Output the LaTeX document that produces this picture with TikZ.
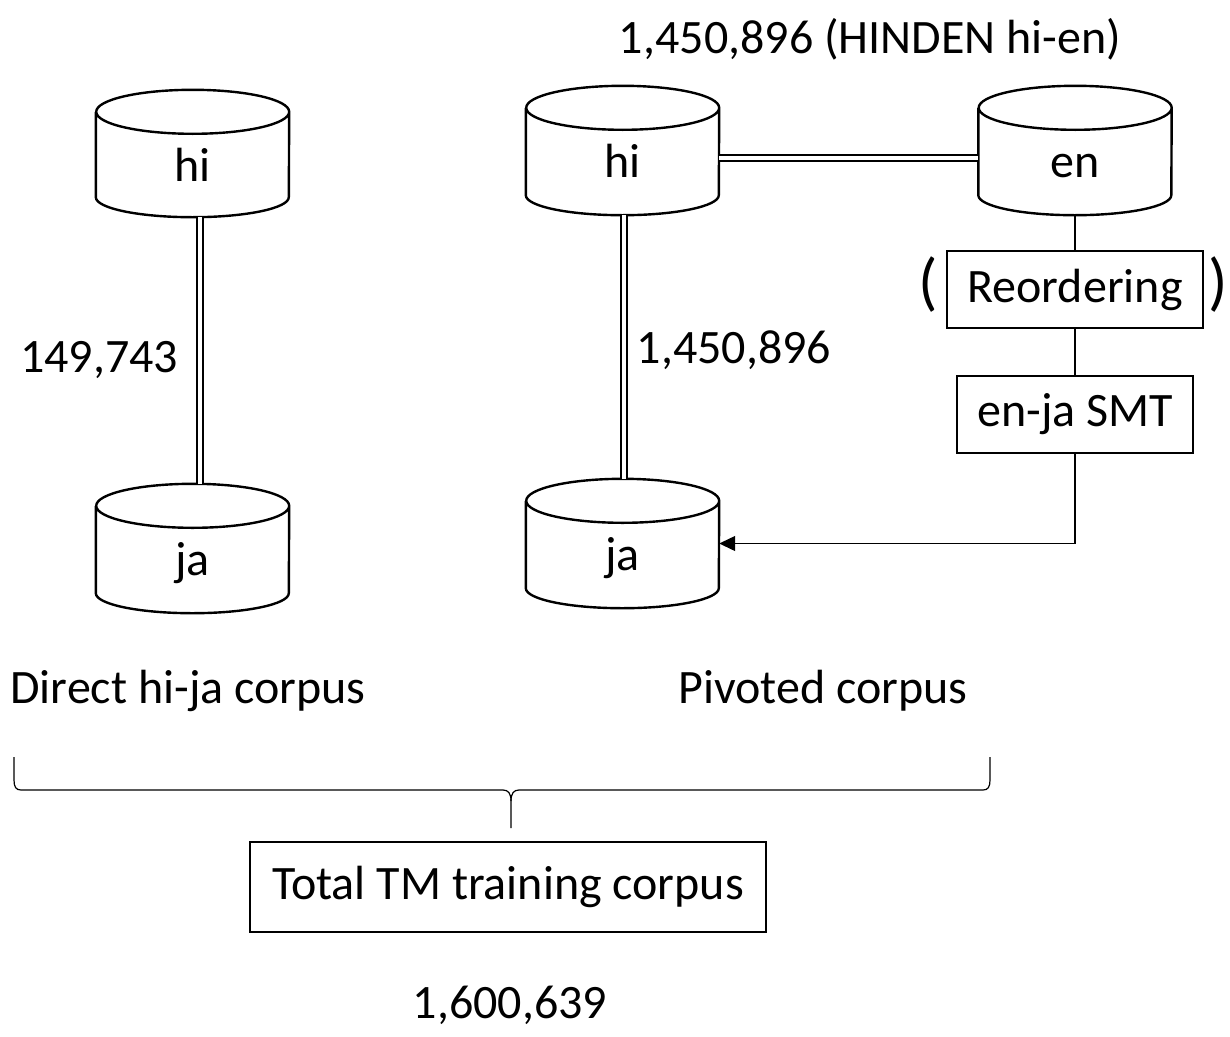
\documentclass[tikz,border=0pt]{standalone}
\usepackage{fontspec}
\setmainfont{Carlito}
\usetikzlibrary{arrows.meta}
\tikzset{
  txt/.style={font=\fontsize{48}{58}\selectfont, inner sep=0pt},
  partxt/.style={font=\fontsize{64}{74}\selectfont, inner sep=0pt},
  cylbox/.style={draw=none, minimum width=193pt, inner sep=0pt},
  cylline/.style={line width=2.4pt, line join=round},
  procbox/.style={draw, line width=2pt, inner sep=0pt, font=\fontsize{48}{58}\selectfont},
  dbl/.style={double, double distance=4.5pt, line width=1.7pt},
  thin/.style={line width=1.3pt},
  arr/.style={thin, -{Triangle[length=16pt,width=15pt]}},
}
\newcommand{\dbcyl}[5]{%
  \node[cylbox, minimum height={#4-#3}] (#1) at (#2,{(#3+#4)/2}) {};
  \draw[cylline] ([yshift=-22pt]#1.north west) -- ([yshift=20pt]#1.south west)
     arc[start angle=180,end angle=360,x radius=96.5pt,y radius=20pt]
     -- ([yshift=-22pt]#1.north east)
     arc[start angle=0,end angle=360,x radius=96.5pt,y radius=22pt];
  \node[txt, anchor=base] (#1-t) at ([yshift=-91.5pt]#1.north) {#5};
}
\begin{document}
\begin{tikzpicture}[x=1pt, y=-1pt]
\useasboundingbox (0,0) rectangle (1230,1036);

% cylinders
\dbcyl{hiL}{192.5}{90}{217}{hi}
\dbcyl{jaL}{192.5}{484}{613}{ja}
\dbcyl{hiR}{622.5}{86}{215}{hi}
\dbcyl{en}{1075}{86}{215}{en}
\dbcyl{jaR}{622.5}{479}{608}{ja}

% process boxes
\node[procbox, minimum width=256pt, minimum height=77pt] (reord) at (1075,289.5) {Reordering};
\node[procbox, minimum width=236pt, minimum height=77pt] (smt) at (1075,414.5) {en-ja SMT};
\node[procbox, minimum width=516pt, minimum height=90pt] (total) at (508,887) {Total TM training corpus};

% parentheses
\node[partxt] (lpar) at (928,285) {(};
\node[partxt] (rpar) at (1218,285) {)};

% connectors
\draw[dbl] ([xshift=7.5pt]hiL.south) -- ([xshift=7.5pt]jaL.north);
\draw[dbl] ([xshift=1.5pt]hiR.south) -- ([xshift=1.5pt]jaR.north);
\draw[dbl] ([yshift=-7.5pt]hiR.east) -- ([yshift=-7.5pt]en.west);
\draw[thin] (en.south) -- (reord.north);
\draw[thin] (reord.south) -- (smt.north);
\draw[arr] (smt.south) |- (jaR.east);

% labels
\node[txt, anchor=base] (lblTop) at (870,53) {1,450,896 (HINDEN hi-en)};
\node[txt, anchor=base] (lblL) at (99,372) {149,743};
\node[txt, anchor=base] (lblR) at (734,363) {1,450,896};
\node[txt, anchor=base] (capL) at (188,703) {Direct hi-ja corpus};
\node[txt, anchor=base] (capR) at (823,703) {Pivoted corpus};
\node[txt, anchor=base] (sum) at (510,1018) {1,600,639};

% brace
\coordinate (bl) at (14,757);
\coordinate (br) at (990,757);
\coordinate (bt) at (511,828);
\draw[line width=1.2pt] (bl) -- (14,780) .. controls (14,787) and (16,790) .. (21,790)
  -- (503,790) .. controls (508,790) and (511,793) .. (511,801) -- (bt);
\draw[line width=1.2pt] (br) -- (990,780) .. controls (990,787) and (988,790) .. (983,790)
  -- (519,790) .. controls (514,790) and (511,793) .. (511,801);
\end{tikzpicture}
\end{document}
